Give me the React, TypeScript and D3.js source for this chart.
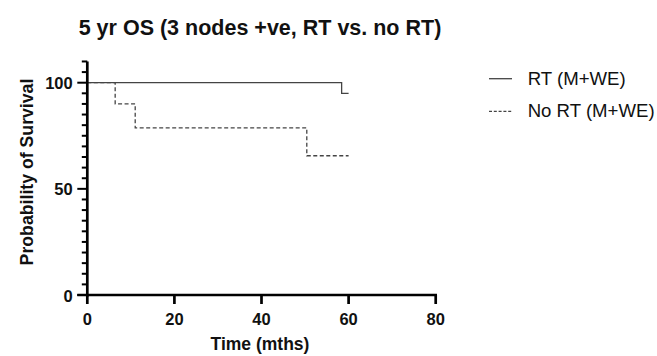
import React from "react";
import * as d3 from "d3";

const rtTimes = [0, 58.4, 60];
const rtSurv = [100, 95, 95];
const noRtTimes = [0, 6.4, 11.0, 50.4, 60];
const noRtSurv = [100, 90, 78.75, 65.6, 65.6];
const xTicks = [0, 20, 40, 60, 80];
const yMajor = [0, 50, 100];
const yMinor = d3.range(0, 111, 5);
const seriesNames = ["RT (M+WE)", "No RT (M+WE)"];

const W = 657, H = 356;
const FONT = "Arial, 'Liberation Sans', Helvetica, sans-serif";

export default function App() {
  const x = d3.scaleLinear().domain([0, 80]).range([87.3, 435.7]);
  const y = d3.scaleLinear().domain([0, 100]).range([295, 82.7]);
  const line = d3.line<[number, number]>().x(d => x(d[0])).y(d => y(d[1])).curve(d3.curveStepAfter);
  const rt = rtTimes.map((t, i) => [t, rtSurv[i]] as [number, number]);
  const nort = noRtTimes.map((t, i) => [t, noRtSurv[i]] as [number, number]);
  return (
    <svg width={W} height={H} style={{ position: "absolute", left: 0, top: 0, background: "#fff" }}>
      <text x={260} y={35} textAnchor="middle" fontFamily={FONT} fontWeight="bold" fontSize={21.5} fill="#111">5 yr OS (3 nodes +ve, RT vs. no RT)</text>
      <path d={line(nort) || ""} fill="none" stroke="#444" strokeWidth={1.3} strokeDasharray="4,2.5" />
      <path d={line(rt) || ""} fill="none" stroke="#444" strokeWidth={1.3} />
      {/* y axis */}
      <line x1={x(0)} x2={x(0)} y1={y(110)} y2={y(0) + 1.5} stroke="#000" strokeWidth={2.7} />
      {yMinor.map(v => (
        <line key={"m" + v} x1={x(0)} x2={x(0) - (yMajor.includes(v) ? 10 : 5.5)} y1={y(v)} y2={y(v)} stroke="#000" strokeWidth={2} />
      ))}
      {yMajor.map(v => (
        <text key={"yl" + v} x={72.7} y={y(v) + 6.5} textAnchor="end" fontFamily={FONT} fontWeight="bold" fontSize={16.5} fill="#111">{v}</text>
      ))}
      {/* x axis */}
      <line x1={x(0) - 10} x2={x(80) + 1.3} y1={y(0)} y2={y(0)} stroke="#000" strokeWidth={2.7} />
      {xTicks.map(v => (
        <g key={"x" + v}>
          <line x1={x(v)} x2={x(v)} y1={y(0)} y2={y(0) + 9} stroke="#000" strokeWidth={2.7} />
          <text x={x(v)} y={325} textAnchor="middle" fontFamily={FONT} fontWeight="bold" fontSize={16.5} fill="#111">{v}</text>
        </g>
      ))}
      <text x={260} y={350} textAnchor="middle" fontFamily={FONT} fontWeight="bold" fontSize={17.5} fill="#111">Time (mths)</text>
      <text transform={`translate(33,${172}) rotate(-90)`} textAnchor="middle" fontFamily={FONT} fontWeight="bold" fontSize={17.7} fill="#111">Probability of Survival</text>
      {/* legend */}
      {seriesNames.map((n, i) => (
        <g key={n}>
          <line x1={489} x2={512} y1={78.7 + i * 32.7} y2={78.7 + i * 32.7} stroke="#444" strokeWidth={1.3} strokeDasharray={i === 1 ? "3,1.8" : undefined} />
          <text x={527.7} y={84.5 + i * 32.5} fontFamily={FONT} fontSize={18.6} fill="#111">{n}</text>
        </g>
      ))}
    </svg>
  );
}
